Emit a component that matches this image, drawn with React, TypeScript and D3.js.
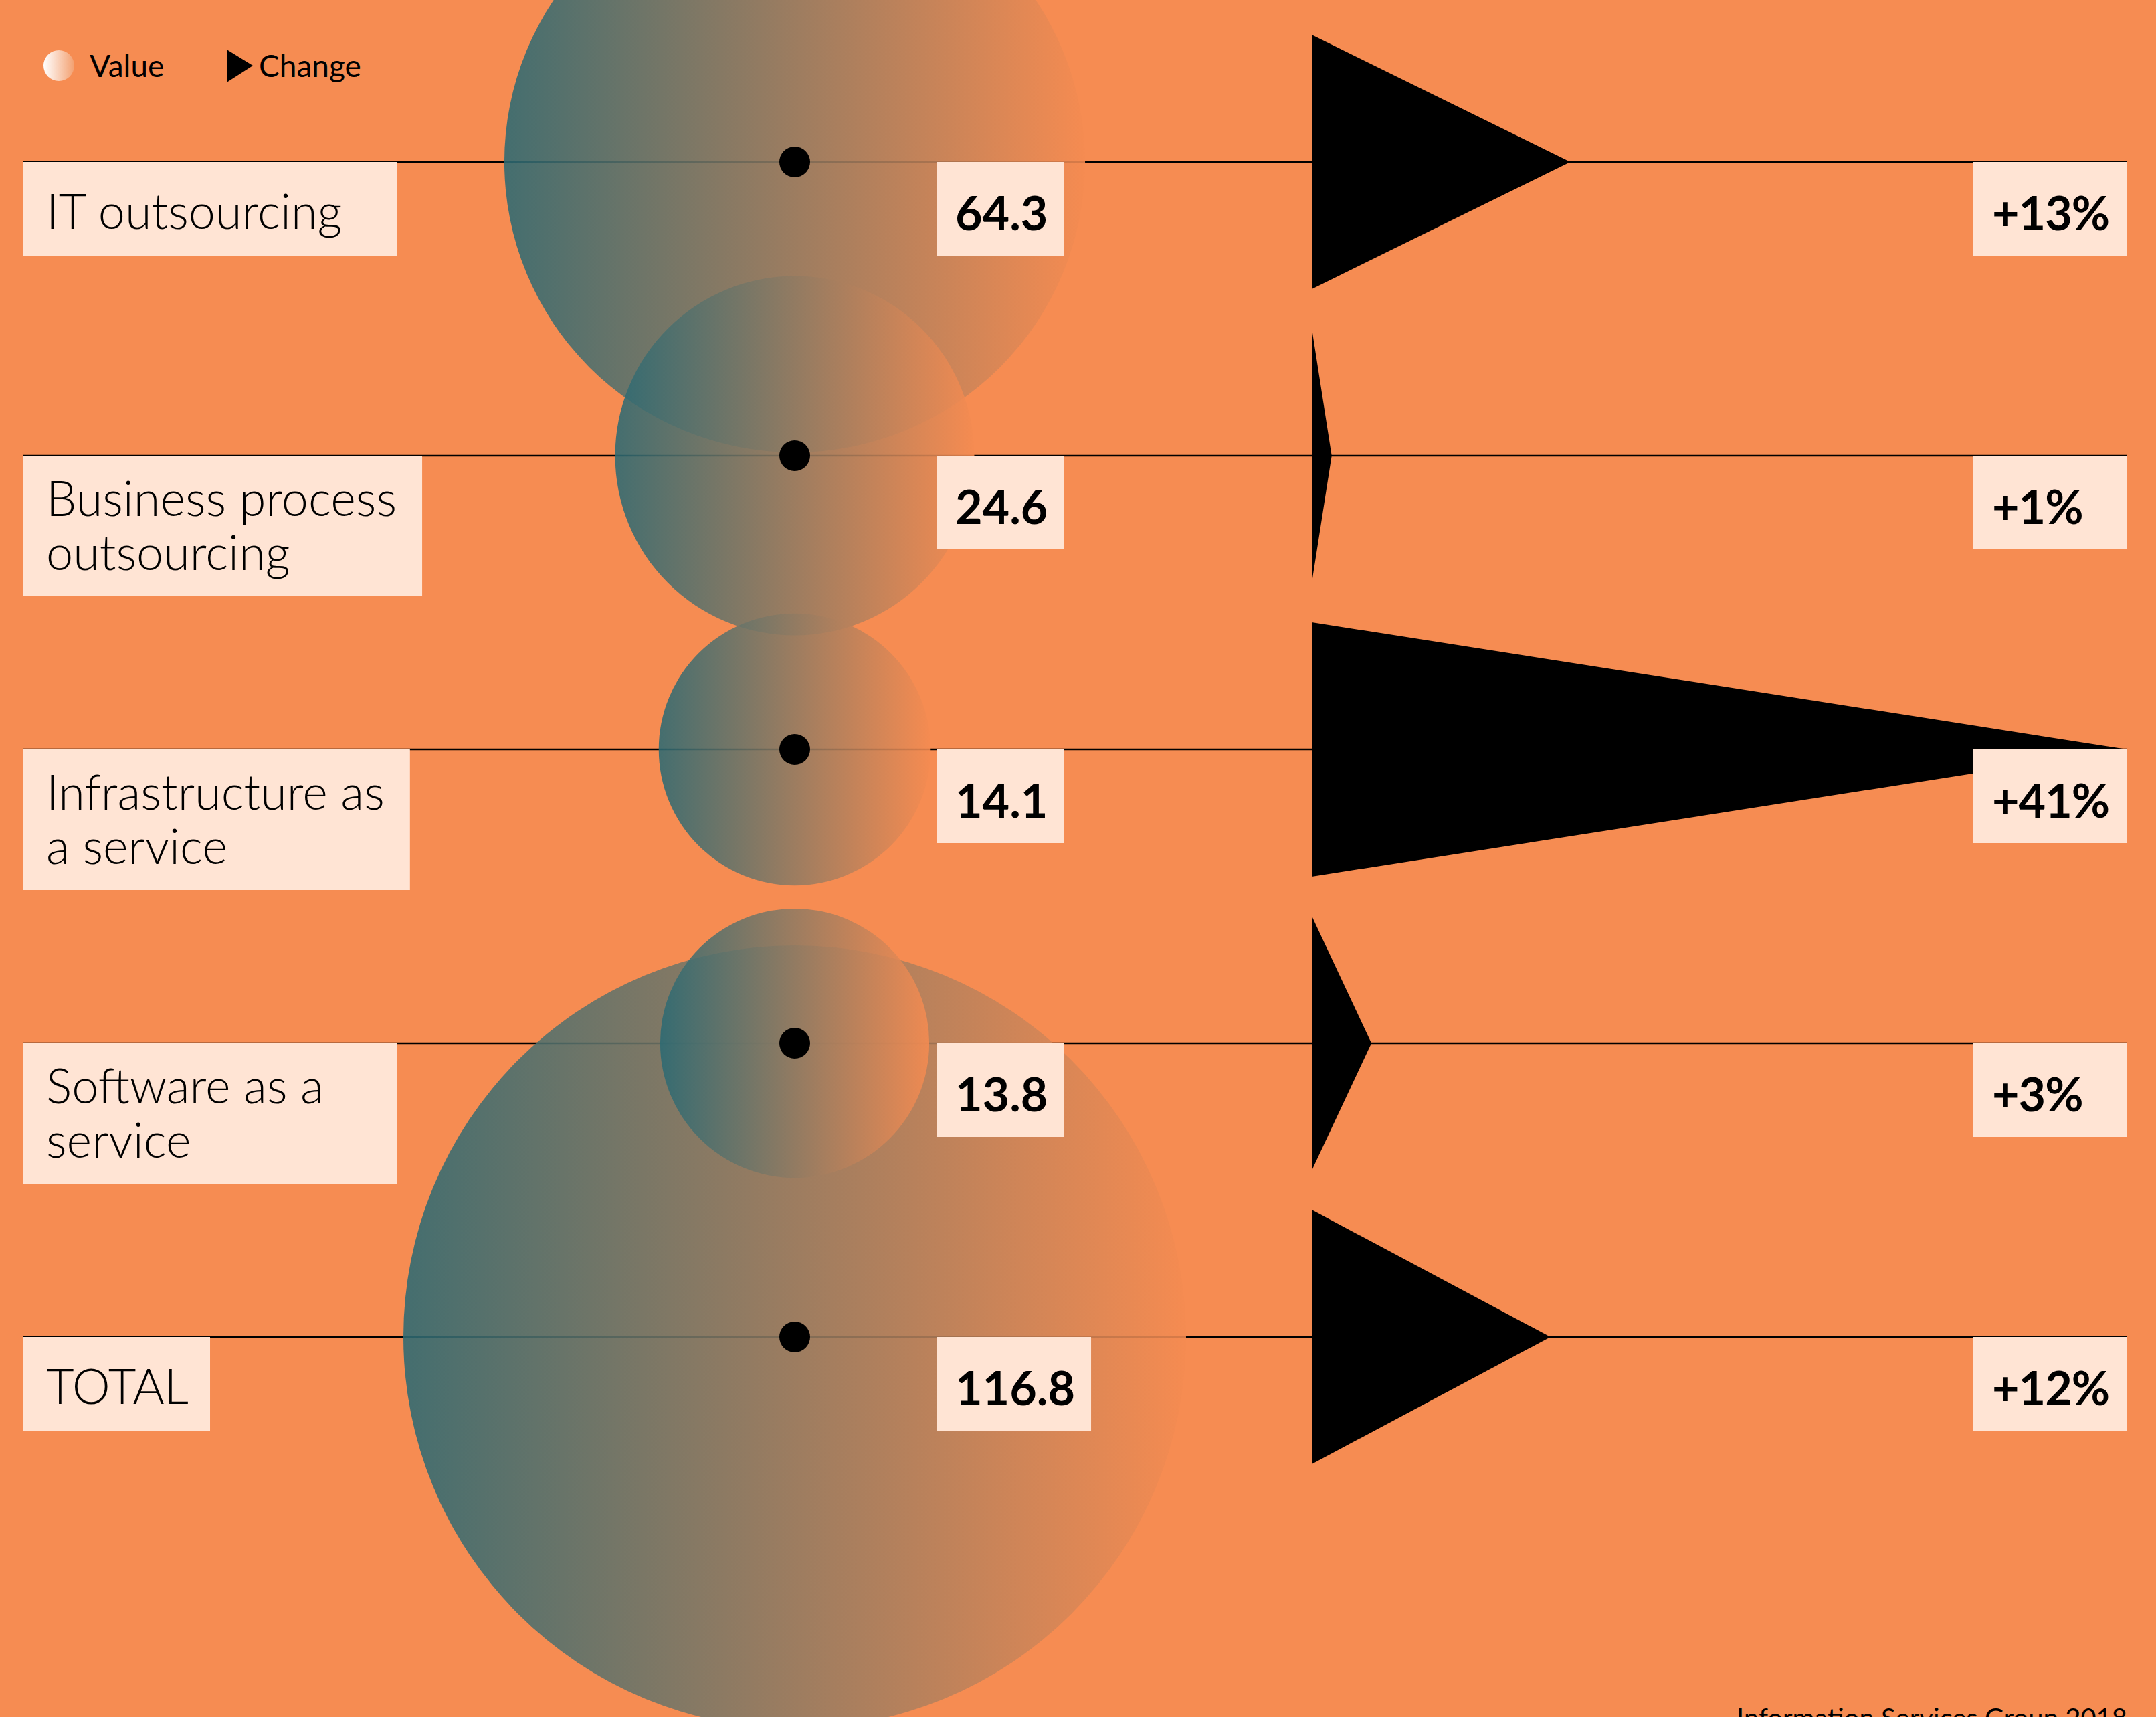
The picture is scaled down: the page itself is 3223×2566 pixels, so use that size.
import { useEffect, useRef } from "react";
import * as d3 from "d3";

const categories = [
  "IT outsourcing",
  "Business process outsourcing",
  "Infrastructure as a service",
  "Software as a service",
  "TOTAL",
];
const labelLines = [
  ["IT outsourcing"],
  ["Business process", "outsourcing"],
  ["Infrastructure as", "a service"],
  ["Software as a", "service"],
  ["TOTAL"],
];
const values = [64.3, 24.6, 14.1, 13.8, 116.8];
const changes = [13, 1, 41, 3, 12];
const legendItems = ["Value", "Change"];
const source = "Information Services Group 2018";

const W = 3223;
const H = 2566;
const BG = "#f68c52";
const BOX = "#ffe4d4";
const FONT = "Lato, 'Open Sans', sans-serif";

const App: React.FC = () => {
  const svgRef = useRef<SVGSVGElement | null>(null);

  useEffect(() => {
    if (!svgRef.current) return;
    const svg = d3.select(svgRef.current);
    svg.selectAll("*").remove();

    const left = 35;
    const right = 3180;
    const cx = 1188;
    const valueX = 1400;
    const changeBoxX = 2950;
    const halfH = 190;

    const y = d3.scalePoint<string>().domain(categories).range([242, 1998]);
    const r = d3.scaleSqrt().domain([0, d3.max(values) ?? 1]).range([0, 585]);
    const x = d3.scaleLinear().domain([0, d3.max(changes) ?? 1]).range([1961, right]);

    const rows = categories.map((c, i) => ({
      name: c,
      lines: labelLines[i],
      value: values[i],
      change: changes[i],
      y: y(c) ?? 0,
    }));

    // gradients
    const defs = svg.append("defs");
    const bg = defs.append("linearGradient").attr("id", "bubble");
    bg.append("stop").attr("offset", "0%").attr("stop-color", "#2c6a73").attr("stop-opacity", 0.88);
    bg.append("stop").attr("offset", "100%").attr("stop-color", "#f58b51").attr("stop-opacity", 0.88);
    const lg = defs.append("linearGradient").attr("id", "legendBubble");
    lg.append("stop").attr("offset", "0%").attr("stop-color", "#ffffff");
    lg.append("stop").attr("offset", "100%").attr("stop-color", "#f3a070");

    svg.append("rect").attr("width", W).attr("height", H).attr("fill", BG);

    // row lines
    svg.append("g")
      .selectAll("line")
      .data(rows)
      .join("line")
      .attr("x1", left)
      .attr("x2", right)
      .attr("y1", d => d.y)
      .attr("y2", d => d.y)
      .attr("stroke", "#000")
      .attr("stroke-width", 2.5);

    // bubbles, largest at the back
    svg.append("g")
      .selectAll("circle")
      .data([...rows].sort((a, b) => b.value - a.value))
      .join("circle")
      .attr("cx", cx)
      .attr("cy", d => d.y)
      .attr("r", d => r(d.value))
      .attr("fill", "url(#bubble)");

    svg.append("g")
      .selectAll("circle")
      .data(rows)
      .join("circle")
      .attr("cx", cx)
      .attr("cy", d => d.y)
      .attr("r", 23)
      .attr("fill", "#000");

    // category labels
    const minBox = 559;
    rows.forEach(d => {
      const g = svg.append("g");
      const rect = g.append("rect").attr("fill", BOX);
      const n = d.lines.length;
      const first = n === 1 ? 100 : 90;
      let tw = 0;
      d.lines.forEach((line, i) => {
        const t = g.append("text")
          .attr("x", left + 34)
          .attr("y", d.y + first + i * 81)
          .attr("font-family", FONT)
          .attr("font-weight", 300)
          .attr("font-size", 72)
          .attr("fill", "#000")
          .text(line);
        tw = Math.max(tw, (t.node() as SVGTextElement).getComputedTextLength());
      });
      const w = tw > minBox * 0.5 ? Math.max(tw + 72, minBox) : tw + 66;
      rect.attr("x", left).attr("y", d.y).attr("width", w).attr("height", 140 + 70 * (n - 1));
    });

    // value labels
    rows.forEach(d => {
      const g = svg.append("g");
      const rect = g.append("rect").attr("fill", BOX);
      const t = g.append("text")
        .attr("x", valueX + 28)
        .attr("y", d.y + 102)
        .attr("font-family", FONT)
        .attr("font-weight", 700)
        .attr("font-size", 70)
        .text(d3.format(".1f")(d.value));
      const tw = (t.node() as SVGTextElement).getComputedTextLength();
      rect.attr("x", valueX).attr("y", d.y).attr("width", tw + 52).attr("height", 140);
    });

    // change triangles
    const tri = d3.line<[number, number]>();
    svg.append("g")
      .selectAll("path")
      .data(rows)
      .join("path")
      .attr("d", d =>
        tri([
          [x(0), d.y - halfH],
          [x(d.change), d.y],
          [x(0), d.y + halfH],
        ]) + "Z"
      )
      .attr("fill", "#000");

    // change labels
    const cg = svg.append("g");
    cg.selectAll("rect")
      .data(rows)
      .join("rect")
      .attr("x", changeBoxX)
      .attr("y", d => d.y)
      .attr("width", right - changeBoxX)
      .attr("height", 140)
      .attr("fill", BOX);
    cg.selectAll("text")
      .data(rows)
      .join("text")
      .attr("x", changeBoxX + 28)
      .attr("y", d => d.y + 102)
      .attr("font-family", FONT)
      .attr("font-weight", 700)
      .attr("font-size", 70)
      .attr("letter-spacing", -1)
      .text(d => `+${d.change}%`);

    // legend
    const leg = svg.append("g");
    leg.append("circle").attr("cx", 88).attr("cy", 98).attr("r", 23).attr("fill", "url(#legendBubble)");
    leg.append("text")
      .attr("x", 134).attr("y", 115)
      .attr("font-family", FONT).attr("font-size", 46)
      .text(legendItems[0]);
    leg.append("path")
      .attr("d", tri([[339, 74], [378, 98], [339, 123]]) + "Z")
      .attr("fill", "#000");
    leg.append("text")
      .attr("x", 387).attr("y", 115)
      .attr("font-family", FONT).attr("font-size", 46)
      .text(legendItems[1]);

    // source
    svg.append("text")
      .attr("x", right)
      .attr("y", 2582)
      .attr("text-anchor", "end")
      .attr("font-family", FONT)
      .attr("font-size", 40)
      .text(source);
  }, []);

  return (
    <svg
      ref={svgRef}
      width={W}
      height={H}
      style={{ position: "absolute", left: 0, top: 0, display: "block" }}
    />
  );
};

export default App;
